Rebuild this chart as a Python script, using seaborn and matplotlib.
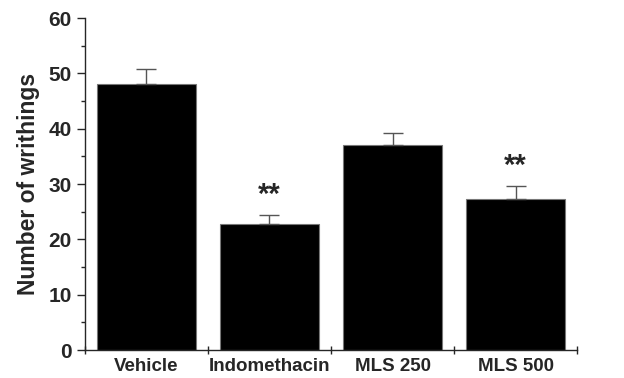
import matplotlib
matplotlib.use("Agg")
import matplotlib.pyplot as plt
import seaborn as sns
import pandas as pd
from matplotlib.ticker import MultipleLocator, FixedLocator

groups = ["Vehicle", "Indomethacin", "MLS 250", "MLS 500"]
means = [48.1, 22.7, 37.0, 27.3]
sem = [2.7, 1.8, 2.3, 2.4]
marks = ["", "**", "", "**"]

sns.set_style("ticks")
plt.rcParams["font.family"] = ["Liberation Sans", "DejaVu Sans"]
plt.rcParams["font.weight"] = "bold"

df = pd.DataFrame({"group": groups, "mean": means})

fig = plt.figure(figsize=(6.24, 3.78), dpi=100)
ax = fig.add_axes([0.136, 0.074, 0.789, 0.878])

sns.barplot(data=df, x="group", y="mean", color="black", width=0.8,
            edgecolor="#777777", linewidth=0.8, saturation=1, ax=ax, errorbar=None)

xs = range(len(groups))
ax.errorbar(xs, means, yerr=[[0] * len(sem), sem], fmt="none",
            ecolor="#555555", elinewidth=1, capsize=7, capthick=1)
for x, m, s, t in zip(xs, means, sem, marks):
    if t:
        ax.text(x, m + s + 1.0, t, ha="center", va="bottom",
                fontsize=21, fontweight="bold")

ax.set_xlim(-0.5, 3.5)
ax.set_ylim(0, 60)
ax.yaxis.set_major_locator(MultipleLocator(10))
ax.yaxis.set_minor_locator(MultipleLocator(5))
ax.xaxis.set_minor_locator(FixedLocator([-0.5, 0.5, 1.5, 2.5, 3.5]))
ax.tick_params(axis="x", which="major", length=0, labelsize=13.5, pad=6)
ax.tick_params(axis="x", which="minor", length=6, width=1, direction="inout")
ax.tick_params(axis="y", which="major", length=6, width=1, labelsize=15)
ax.tick_params(axis="y", which="minor", length=3, width=1)
for lab in ax.get_xticklabels() + ax.get_yticklabels():
    lab.set_fontweight("bold")

ax.set_xlabel("")
ax.set_ylabel("Number of writhings", fontsize=16.5, fontweight="bold", labelpad=6)
for side in ["top", "right"]:
    ax.spines[side].set_visible(False)
for side in ["left", "bottom"]:
    ax.spines[side].set_linewidth(1)

fig.savefig("out.png", dpi=100)
